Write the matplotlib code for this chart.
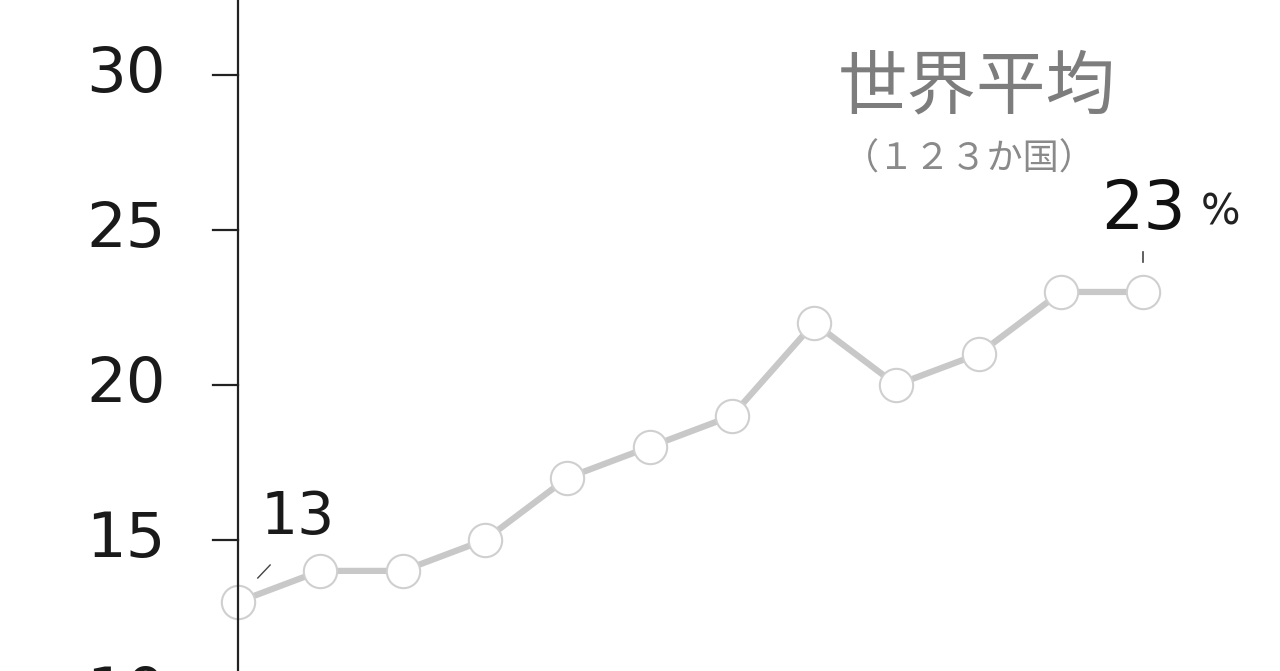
import matplotlib
matplotlib.use("Agg")
import matplotlib.pyplot as plt

# 世界平均（123か国）, %
points = list(range(12))
values = [13, 14, 14, 15, 17, 18, 19, 22, 20, 21, 23, 23]
yticks = [10, 15, 20, 25, 30]

plt.rcParams["font.family"] = ["DejaVu Sans", "Noto Sans CJK JP"]
jp = ["Noto Sans CJK JP", "DejaVu Sans"]

fig = plt.figure(figsize=(12.8, 6.71), dpi=100)
ax = fig.add_axes([0, 0, 1, 1])
ax.set_xlim(-2.892, 12.66)
ax.set_ylim(10.77, 32.42)

for s in ["top", "right", "bottom"]:
    ax.spines[s].set_visible(False)
ax.spines["left"].set_position(("data", 0))
ax.spines["left"].set_linewidth(1.6)
ax.spines["left"].set_color("#222222")
ax.set_xticks([])
ax.set_yticks([])

# y ticks and labels drawn by hand so the cut-off "10" still shows
for t in yticks:
    ax.plot([-0.3, 0], [t, t], color="#222222", lw=1.6, clip_on=False)
    ax.text(-0.88, t, str(t), ha="right", va="center", fontsize=45,
            color="#1a1a1a", clip_on=False)

ax.plot(points, values, color="#c8c8c8", lw=4.5, zorder=2, clip_on=False,
        marker="o", markersize=24, markerfacecolor="white",
        markeredgecolor="#cfcfcf", markeredgewidth=1.5)

# first value label
ax.annotate("13", (points[0], values[0]), xytext=(60, 84), textcoords="offset pixels",
            ha="center", va="center", fontsize=42, color="#1a1a1a")
ax.plot([0.24, 0.39], [values[0] + 0.77, values[0] + 1.19], color="#444444", lw=1.0)

# last value label
ax.annotate("23", (points[-1], values[-1]), xytext=(0, 82), textcoords="offset pixels",
            ha="center", va="center", fontsize=48, color="#111111")
ax.annotate("%", (points[-1], values[-1]), xytext=(77, 79), textcoords="offset pixels",
            ha="center", va="center", fontsize=30, color="#222222")
ax.plot([points[-1], points[-1]], [values[-1] + 0.97, values[-1] + 1.29],
        color="#444444", lw=1.2)

ax.text(8.98, 29.58, "世界平均", ha="center", va="center", fontsize=50,
        color="#7d7d7d", family=jp)
ax.text(8.89, 27.26, "（１２３か国）", ha="center", va="center", fontsize=26,
        color="#8a8a8a", family=jp)

fig.savefig("out.png", dpi=100, facecolor="white")
